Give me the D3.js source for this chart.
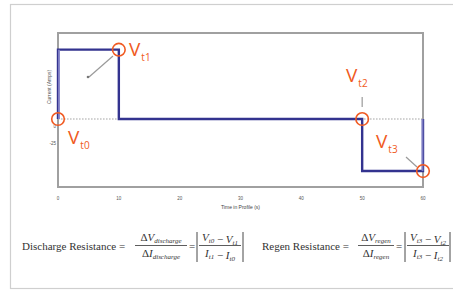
<!DOCTYPE html>
<html>
<head>
<meta charset="utf-8">
<script src="https://cdn.jsdelivr.net/npm/d3@7"></script>
<style>
  body { margin: 0; background: #fff; }
  svg { display: block; }
</style>
</head>
<body>
<script>
// current profile (amps) vs time in profile (s)
var profileTimes = [0, 0, 10, 50, 60];
var profileCurrents = [0, 100, 0, -75, 0];

var xTicks = [0, 10, 20, 30, 40, 50, 60];
var yTicks = [0, -25];

// voltage sample points
var markerTimes = [0, 10, 50, 60];
var markerCurrents = [0, 100, 0, -75];
var markerNames = ["t0", "t1", "t2", "t3"];

var width = 453, height = 290;

var svg = d3.select("body").append("svg")
  .attr("width", width).attr("height", height);

// outer frame
svg.append("rect")
  .attr("x", 10.5).attr("y", 4.5)
  .attr("width", 470).attr("height", 284)
  .attr("fill", "none").attr("stroke", "#cfcfcf").attr("stroke-width", 1.2);

var x = d3.scaleLinear().domain([0, 60]).range([58, 423]);
var y = d3.scaleLinear().domain([-98, 124]).range([187, 33]);

// dotted zero line
svg.append("line")
  .attr("x1", x(0)).attr("x2", x(60))
  .attr("y1", y(0)).attr("y2", y(0))
  .attr("stroke", "#c4c4c4").attr("stroke-width", 1.6)
  .attr("stroke-dasharray", "1.6,1.4");

// plot box
svg.append("rect")
  .attr("x", x(0)).attr("y", y(124))
  .attr("width", x(60) - x(0)).attr("height", y(-98) - y(124))
  .attr("fill", "none").attr("stroke", "#a0a0a0").attr("stroke-width", 2);

// step line
var pts = profileTimes.map(function(t, i) { return [t, profileCurrents[i]]; });
var line = d3.line()
  .x(function(d) { return x(d[0]); })
  .y(function(d) { return y(d[1]); })
  .curve(d3.curveStepAfter);

svg.append("path")
  .datum(pts)
  .attr("d", line)
  .attr("fill", "none")
  .attr("stroke", "#33338f")
  .attr("stroke-width", 2.4);

// the edge verticals look lighter (they sit on the box border)
svg.append("line")
  .attr("x1", x(0) + 1).attr("x2", x(0) + 1)
  .attr("y1", y(0)).attr("y2", y(100))
  .attr("stroke", "#8282c8").attr("stroke-width", 1.8);
svg.append("line")
  .attr("x1", x(60) - 0.5).attr("x2", x(60) - 0.5)
  .attr("y1", y(0)).attr("y2", y(-75))
  .attr("stroke", "#7a7ac2").attr("stroke-width", 1.8);

// tick labels (very small, as in the scan)
svg.selectAll(".xt")
  .data(xTicks)
  .enter().append("text")
  .attr("x", function(d) { return x(d); })
  .attr("y", 200)
  .attr("text-anchor", "middle")
  .attr("font-family", "Liberation Sans, sans-serif")
  .attr("font-size", 4.5)
  .attr("fill", "#555")
  .text(function(d) { return d; });

svg.selectAll(".yt")
  .data(yTicks)
  .enter().append("text")
  .attr("x", 56)
  .attr("y", function(d) { return y(d) + 9; })
  .attr("text-anchor", "end")
  .attr("font-family", "Liberation Sans, sans-serif")
  .attr("font-size", 4.5)
  .attr("fill", "#555")
  .text(function(d) { return d; });

svg.append("text")
  .attr("x", x(30)).attr("y", 209)
  .attr("text-anchor", "middle")
  .attr("font-family", "Liberation Sans, sans-serif")
  .attr("font-size", 5)
  .attr("fill", "#444")
  .text("Time in Profile (s)");

svg.append("text")
  .attr("transform", "translate(51,87) rotate(-90)")
  .attr("text-anchor", "middle")
  .attr("font-family", "Liberation Sans, sans-serif")
  .attr("font-size", 5)
  .attr("fill", "#555")
  .text("Current (Amps)");

// leader lines
var leader = svg.append("g").attr("stroke", "#9a9a9a").attr("stroke-width", 1.2);
leader.append("line").attr("x1", 89).attr("y1", 77).attr("x2", 113).attr("y2", 56);
svg.append("circle").attr("cx", 88).attr("cy", 77).attr("r", 1.3).attr("fill", "#777");
leader.append("line").attr("x1", x(50)).attr("y1", 97).attr("x2", x(50)).attr("y2", 107);
leader.append("line").attr("x1", 406).attr("y1", 157).attr("x2", 417).attr("y2", 167);

// orange circles and labels
var orange = "#f05a22";
var labelPos = [[68, 144], [129, 56], [346, 82], [376, 148]];

svg.selectAll(".mk")
  .data(markerTimes)
  .enter().append("circle")
  .attr("cx", function(d) { return x(d); })
  .attr("cy", function(d, i) { return y(markerCurrents[i]); })
  .attr("r", 6.3)
  .attr("fill", "none")
  .attr("stroke", orange)
  .attr("stroke-width", 1.6);

markerNames.forEach(function(n, i) {
  var t = svg.append("text")
    .attr("x", labelPos[i][0]).attr("y", labelPos[i][1])
    .attr("font-family", "Open Sans, sans-serif")
    .attr("fill", orange);
  t.append("tspan").attr("font-size", 19).text("V");
  t.append("tspan").attr("font-size", 10).attr("dy", 5).attr("dx", 1).text(n);
});

// equations
var eq = svg.append("g")
  .attr("font-family", "Liberation Serif, Times New Roman, serif")
  .attr("fill", "#333");

function sub(txt, main, s) {
  txt.append("tspan").text(main);
  txt.append("tspan").attr("font-size", 7).attr("dy", 2).text(s);
  txt.append("tspan").attr("dy", -2).text("");
}

function fraction(cx, num, den, w) {
  var a = eq.append("text").attr("x", cx).attr("y", 241)
    .attr("text-anchor", "middle").attr("font-size", 11).attr("font-style", "italic");
  num(a);
  eq.append("line").attr("x1", cx - w / 2).attr("x2", cx + w / 2)
    .attr("y1", 245.5).attr("y2", 245.5)
    .attr("stroke", "#333").attr("stroke-width", 0.8);
  var b = eq.append("text").attr("x", cx).attr("y", 257)
    .attr("text-anchor", "middle").attr("font-size", 11).attr("font-style", "italic");
  den(b);
}

function absBars(x1, x2) {
  [x1, x2].forEach(function(xx) {
    eq.append("line").attr("x1", xx).attr("x2", xx)
      .attr("y1", 232).attr("y2", 262)
      .attr("stroke", "#333").attr("stroke-width", 0.9);
  });
}

eq.append("text").attr("x", 22).attr("y", 249.5).attr("font-size", 11)
  .text("Discharge Resistance =");
fraction(161, function(t) { t.append("tspan").attr("font-style", "normal").text("Δ"); sub(t, "V", "discharge"); },
  function(t) { t.append("tspan").attr("font-style", "normal").text("Δ"); sub(t, "I", "discharge"); }, 52);
eq.append("text").attr("x", 189).attr("y", 249.5).attr("font-size", 11).text("=");
absBars(197, 243);
fraction(220, function(t) { sub(t, "V", "t0"); t.append("tspan").attr("font-style", "normal").text(" − "); sub(t, "V", "t1"); },
  function(t) { sub(t, "I", "t1"); t.append("tspan").attr("font-style", "normal").text(" − "); sub(t, "I", "t0"); }, 42);

eq.append("text").attr("x", 262).attr("y", 249.5).attr("font-size", 11)
  .text("Regen Resistance =");
fraction(376, function(t) { t.append("tspan").attr("font-style", "normal").text("Δ"); sub(t, "V", "regen"); },
  function(t) { t.append("tspan").attr("font-style", "normal").text("Δ"); sub(t, "I", "regen"); }, 36);
eq.append("text").attr("x", 396).attr("y", 249.5).attr("font-size", 11).text("=");
absBars(405, 450);
fraction(428, function(t) { sub(t, "V", "t3"); t.append("tspan").attr("font-style", "normal").text(" − "); sub(t, "V", "t2"); },
  function(t) { sub(t, "I", "t3"); t.append("tspan").attr("font-style", "normal").text(" − "); sub(t, "I", "t2"); }, 42);
</script>
</body>
</html>
